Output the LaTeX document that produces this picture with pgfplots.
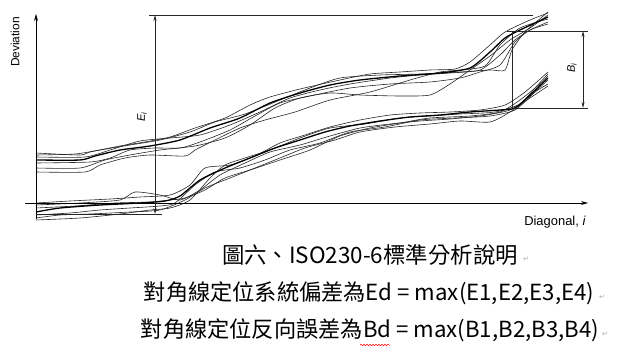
\documentclass[border=0pt]{standalone}
\usepackage{fontspec}
\setmainfont{Liberation Sans}
\newfontfamily\cjk{Noto Sans CJK TC}
\newfontfamily\dejavu{DejaVu Sans}
\usepackage{pgfplots}
\pgfplotsset{compat=1.18}
\usetikzlibrary{arrows.meta,decorations.pathmorphing}
\begin{document}
\begin{tikzpicture}
\begin{axis}[scale only axis, width=623bp, height=353bp,
  xmin=0, xmax=623, ymin=0, ymax=353, y dir=reverse,
  hide axis, clip=false]
\path (axis cs:0,0) rectangle (axis cs:623,353);
% upper bundle
\addplot[black!85, line width=0.6bp, smooth, tension=0.4] coordinates {(36,153)(80,155)(90,152)(120,146)(145,142)(170,137)(195,128)(225,118)(250,105)(270,97)(300,89)(340,80)(370,74)(400,72)(430,70)(455,69)(470,62)(490,45)(505,32)(530,20)(548,13)};
\addplot[black!85, line width=0.6bp, smooth, tension=0.4] coordinates {(36,157)(85,157)(110,150)(140,141)(170,138)(200,135)(230,125)(260,112)(290,98)(320,90)(350,84)(390,78)(420,75)(450,73)(480,70)(500,55)(515,40)(530,30)(548,22)};
\addplot[black!85, line width=0.6bp, smooth, tension=0.4] coordinates {(36,163)(90,162)(110,158)(130,150)(155,148)(180,148)(200,142)(230,130)(255,116)(280,103)(310,96)(350,88)(390,84)(430,82)(460,78)(480,72)(500,65)(515,42)(530,30)(548,24)};
\addplot[black!85, line width=0.6bp, smooth, tension=0.4] coordinates {(36,168)(80,168)(105,160)(130,155)(160,150)(195,146)(225,138)(250,125)(275,108)(300,98)(330,93)(360,95)(400,96)(430,95)(450,84)(470,70)(490,56)(510,40)(530,28)(548,15)};
\addplot[black!85, line width=0.6bp, smooth, tension=0.4] coordinates {(36,172)(85,172)(100,165)(125,158)(150,155)(185,156)(195,150)(215,140)(240,128)(265,120)(295,112)(330,100)(370,92)(410,80)(440,72)(460,70)(485,66)(500,45)(520,28)(548,19)};
\addplot[black!85, line width=0.6bp, smooth, tension=0.4] coordinates {(36,155)(75,154)(100,150)(130,145)(160,140)(190,132)(215,122)(245,114)(280,100)(310,88)(340,78)(380,75)(420,74)(460,72)(490,70)(505,70)(512,50)(525,32)(548,12)};
\addplot[black, line width=1.3bp, smooth, tension=0.4] coordinates {(36,160)(80,160)(95,156)(120,150)(150,146)(180,140)(210,128)(240,118)(270,103)(300,93)(330,85)(360,80)(400,76)(440,73)(470,68)(490,52)(505,38)(520,30)(548,17)};
% lower bundle
\addplot[black!85, line width=0.6bp, smooth, tension=0.4] coordinates {(36,203)(70,201)(110,199)(140,197)(170,195)(190,185)(205,168)(230,165)(255,156)(280,143)(305,135)(330,127)(360,120)(390,115)(420,113)(450,112)(480,110)(505,105)(525,92)(548,72)};
\addplot[black!85, line width=0.6bp, smooth, tension=0.4] coordinates {(36,205)(80,203)(120,200)(135,192)(160,195)(180,200)(200,190)(220,175)(245,163)(270,152)(300,145)(330,136)(360,128)(390,124)(420,121)(450,119)(480,116)(510,110)(530,96)(548,80)};
\addplot[black!85, line width=0.6bp, smooth, tension=0.4] coordinates {(36,215)(70,213)(100,210)(130,208)(160,206)(175,203)(195,185)(215,172)(240,168)(265,160)(290,150)(320,143)(350,132)(385,127)(420,120)(455,118)(490,116)(515,110)(535,92)(548,84)};
\addplot[black!85, line width=0.6bp, smooth, tension=0.4] coordinates {(36,218)(60,215)(90,214)(130,212)(160,210)(185,200)(205,188)(230,178)(255,168)(280,158)(305,148)(335,140)(360,132)(395,127)(430,124)(460,121)(490,122)(510,112)(530,98)(548,86)};
\addplot[black!85, line width=0.6bp, smooth, tension=0.4] coordinates {(36,220)(80,218)(120,214)(150,210)(170,208)(190,200)(210,178)(225,165)(245,158)(270,150)(300,138)(330,128)(365,124)(400,118)(430,116)(460,114)(495,112)(520,104)(535,88)(548,74)};
\addplot[black!85, line width=0.6bp, smooth, tension=0.4] coordinates {(36,208)(75,206)(115,203)(150,202)(170,200)(185,198)(205,190)(225,178)(250,170)(280,160)(310,150)(340,136)(370,128)(400,123)(430,118)(470,116)(500,112)(520,100)(540,84)(548,76)};
\addplot[black, line width=1.3bp, smooth, tension=0.4] coordinates {(36,212)(60,208)(100,205)(140,203)(165,201)(180,196)(200,180)(225,168)(250,158)(275,148)(300,140)(325,132)(350,126)(380,121)(410,117)(440,115)(470,112)(500,110)(515,108)(530,95)(548,78)};
% axes
\draw[black, line width=0.8bp, -{Stealth[length=7bp,width=4bp]}] (axis cs:25,203) -- (axis cs:588,203);
\draw[black, line width=0.8bp, -{Stealth[length=7bp,width=4bp]}] (axis cs:36,219) -- (axis cs:36,14);
% E_i
\draw[black!85, line width=0.6bp] (axis cs:149,15) -- (axis cs:533,15);
\draw[black!85, line width=0.6bp] (axis cs:36,214) -- (axis cs:162,214);
\draw[black!85, line width=0.6bp, {Stealth[length=6bp,width=3bp]}-{Stealth[length=6bp,width=3bp]}] (axis cs:155,15) -- (axis cs:155,214);
\node[rotate=90, font=\fontsize{11}{11}\selectfont\itshape] at (axis cs:142,117) {E\textsubscript{\kern-0.5pt i}};
% B_i
\draw[black!85, line width=0.6bp] (axis cs:507,31) -- (axis cs:588,31);
\draw[black!85, line width=0.6bp] (axis cs:513,108) -- (axis cs:588,108);
\draw[black!85, line width=0.6bp] (axis cs:512,31) -- (axis cs:512,108);
\draw[black!85, line width=0.6bp, {Stealth[length=6bp,width=3bp]}-{Stealth[length=6bp,width=3bp]}] (axis cs:583,31) -- (axis cs:583,108);
\node[rotate=90, font=\fontsize{11}{11}\selectfont\itshape] at (axis cs:572,68) {B\textsubscript{\kern-0.5pt i}};
% axis labels
\node[rotate=90, font=\fontsize{12}{12}\selectfont] at (axis cs:15,42) {Deviation};
\node[font=\fontsize{13}{13}\selectfont] at (axis cs:555,222) {Diagonal, \textit{i}};
% caption
\node[font=\cjk\fontsize{22.5}{22.5}\selectfont] at (axis cs:370,255) {圖六、ISO230-6標準分析說明};
\node[font=\cjk\fontsize{22.3}{22.3}\selectfont] at (axis cs:369,293) {對角線定位系統偏差為Ed = max(E1,E2,E3,E4)};
\node[font=\cjk\fontsize{22.3}{22.3}\selectfont] at (axis cs:370,330) {對角線定位反向誤差為Bd = max(B1,B2,B3,B4)};
\node[font=\dejavu\fontsize{7}{7}\selectfont, text=gray!70, inner sep=0pt] at (axis cs:526,259) {↵};
\node[font=\dejavu\fontsize{7}{7}\selectfont, text=gray!70, inner sep=0pt] at (axis cs:602,297) {↵};
\node[font=\dejavu\fontsize{7}{7}\selectfont, text=gray!70, inner sep=0pt] at (axis cs:605,334) {↵};
\draw[red, line width=0.5bp, decorate, decoration={snake, amplitude=0.7bp, segment length=3bp}] (axis cs:360,345) -- (axis cs:390,345);
\end{axis}
\end{tikzpicture}
\end{document}
